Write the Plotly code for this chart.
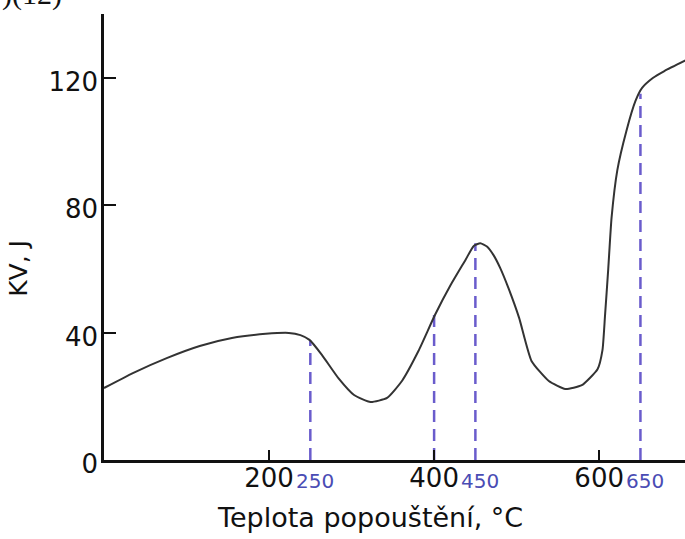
import plotly.graph_objects as go

# Tempering temperature (°C) and impact energy KV (J)
temp = [0, 35, 76, 116, 155, 196, 224, 238, 249, 264, 284, 303, 323, 343, 361, 381,
        401, 420, 438, 448, 456, 464, 472, 480, 490, 503, 518, 539, 559, 579, 598,
        604, 607, 611, 615, 622, 633, 644, 652, 665, 679, 706]
kv = [22.6, 27.3, 32.0, 35.8, 38.3, 39.6, 39.9, 39.2, 37.7, 33.0, 25.7, 20.4, 18.2,
      19.5, 24.8, 34.2, 45.5, 54.9, 62.8, 67.2, 68.0, 67.0, 64.3, 60.3, 54.0, 44.6,
      31.1, 24.8, 22.3, 23.5, 28.5, 34.5, 45.0, 60.0, 76.0, 91.0, 103.3, 112.7,
      116.8, 119.9, 122.1, 125.6]

# Marked temperatures (dashed lines) and the curve value they reach
mark_temps = [250, 400, 450, 650]
mark_kv = [37.5, 45.5, 68.0, 115.0]
mark_labels = ["250", "450", "650"]
mark_label_temps = [250, 450, 650]

x_ticks = [200, 400, 600]
y_ticks = [0, 40, 80, 120]

FONT = "DejaVu Sans"
BLUE_LINE = "#6a5ccc"
BLUE_TEXT = "#4a4cb4"
INK = "#111111"

fig = go.Figure()

for t, v in zip(mark_temps, mark_kv):
    fig.add_trace(go.Scatter(
        x=[t, t], y=[0, v], mode="lines",
        line=dict(color=BLUE_LINE, width=2.5, dash="12px,7px"),
        hoverinfo="skip", showlegend=False))

fig.add_trace(go.Scatter(
    x=temp, y=kv, mode="lines",
    line=dict(color="#333333", width=2, shape="spline", smoothing=0.5),
    showlegend=False, cliponaxis=False))

for t, lab in zip(mark_label_temps, mark_labels):
    fig.add_annotation(x=t, y=0, xref="x", yref="y", text=lab, showarrow=False,
                       yanchor="top", yshift=-7, xshift=5,
                       font=dict(family=FONT, size=20, color=BLUE_TEXT))

fig.add_annotation(x=0.457, y=-0.13, xref="paper", yref="paper",
                   text="Teplota popouštění, °C", showarrow=False,
                   xanchor="center", yanchor="middle",
                   font=dict(family=FONT, size=27, color=INK))

fig.add_annotation(x=-0.147, y=0.43, xref="paper", yref="paper",
                   text="KV, J", showarrow=False, textangle=-90,
                   xanchor="center", yanchor="middle",
                   font=dict(family=FONT, size=25, color=INK))

fig.add_annotation(x=-0.179, y=1.003, xref="paper", yref="paper", text=")(12)",
                   showarrow=False, xanchor="left", yanchor="bottom",
                   font=dict(family="Liberation Serif", size=30, color=INK))

fig.update_xaxes(range=[0, 704], tickvals=x_ticks, ticktext=[str(v) for v in x_ticks],
                 ticks="inside", ticklen=10, tickwidth=2, tickcolor=INK,
                 showline=True, linecolor=INK, linewidth=2.5, automargin=False,
                 showgrid=False, zeroline=False, ticklabelstandoff=-7,
                 tickfont=dict(family=FONT, size=26, color=INK))
fig.update_yaxes(range=[0, 140], tickvals=y_ticks, ticktext=[str(v) for v in y_ticks],
                 ticks="inside", ticklen=12, tickwidth=2, tickcolor=INK,
                 showline=True, linecolor=INK, linewidth=2.5, automargin=False,
                 showgrid=False, zeroline=False, ticklabelstandoff=-2,
                 ticklabelshift=4,
                 tickfont=dict(family=FONT, size=26, color=INK))

fig.update_layout(width=685, height=539, margin=dict(l=104, r=0, t=14, b=79),
                  paper_bgcolor="white", plot_bgcolor="white", showlegend=False)

fig.write_html("out.html", config={"displayModeBar": False},
               post_script="document.body.style.margin='0';"
                           "document.body.style.padding='0';")
